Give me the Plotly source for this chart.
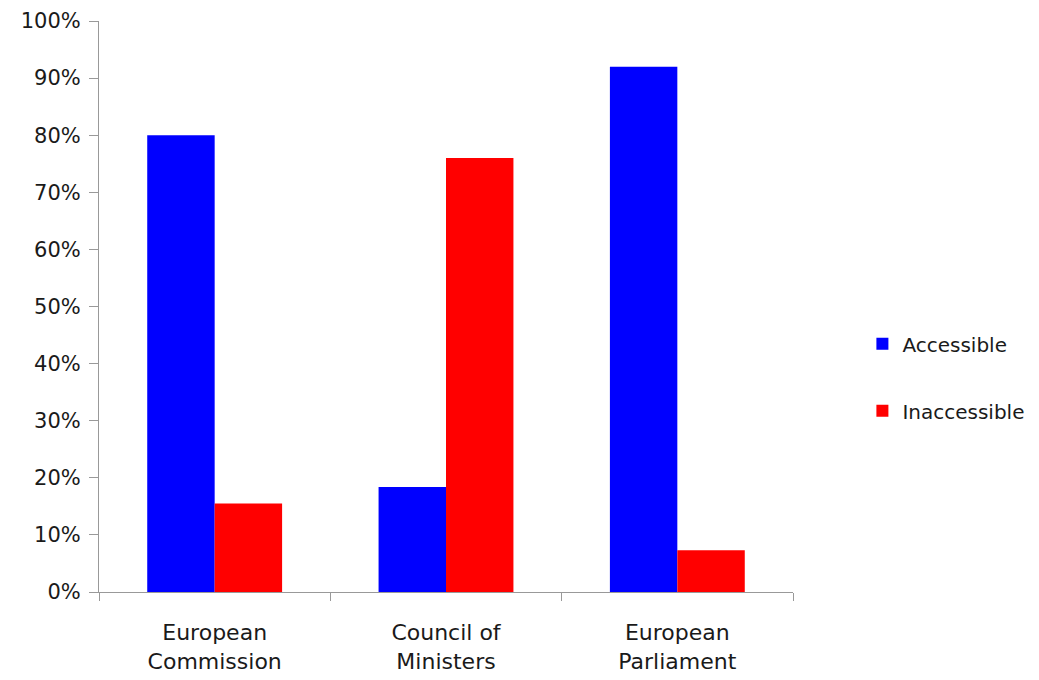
import plotly.graph_objects as go

categories = ["European<br>Commission", "Council of<br>Ministers", "European<br>Parliament"]
accessible = [0.80, 0.184, 0.92]
inaccessible = [0.155, 0.76, 0.073]
y_ticks = [0, 0.1, 0.2, 0.3, 0.4, 0.5, 0.6, 0.7, 0.8, 0.9, 1.0]

FONT = "DejaVu Sans"
TXT = "#1a1a1a"

fig = go.Figure()
fig.add_trace(go.Bar(name="Accessible", x=categories, y=accessible,
                     marker=dict(color="#0000ff", line=dict(width=0)), legendgroup="a"))
fig.add_trace(go.Bar(name="Inaccessible", x=categories, y=inaccessible,
                     marker=dict(color="#ff0000", line=dict(width=0)), legendgroup="b"))

fig.update_layout(
    width=1039, height=680,
    margin=dict(l=91, r=254, t=13, b=96, autoexpand=False),
    paper_bgcolor="white", plot_bgcolor="white",
    barmode="group", bargap=0.417, bargroupgap=0,
    font=dict(family=FONT, size=20, color=TXT),
    showlegend=True,
    legend=dict(x=1.1, xanchor="left", y=0.376, yanchor="middle",
                font=dict(family=FONT, size=20, color=TXT),
                tracegroupgap=38, itemwidth=30, bgcolor="rgba(0,0,0,0)"),
    xaxis=dict(type="category", showline=True, linecolor="#999999", linewidth=1,
               ticks="outside", tickson="boundaries", ticklen=8, tickcolor="#999999",
               showgrid=False, zeroline=False, automargin=False,
               tickfont=dict(family=FONT, size=22, color=TXT), ticklabelstandoff=21),
    yaxis=dict(range=[0, 1], tickvals=y_ticks, tickformat=".0%", showline=True,
               linecolor="#999999", linewidth=1, ticks="outside", ticklen=9,
               tickcolor="#999999", showgrid=False, zeroline=False, automargin=False,
               tickfont=dict(family=FONT, size=21, color=TXT), ticklabelstandoff=4),
)

fig.write_html("out.html")
